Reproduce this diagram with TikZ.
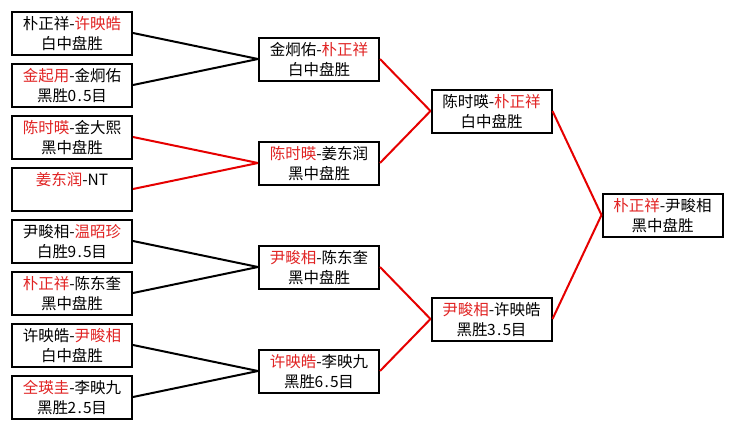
\documentclass[tikz,border=0pt]{standalone}
\usepackage{fontspec}
\setmainfont{Noto Sans CJK SC}
\definecolor{txtred}{RGB}{225,35,35}
\definecolor{linered}{RGB}{230,0,0}
\newcommand\R[1]{\textcolor{txtred}{#1}}
\newcommand\hw[1]{\makebox[7.8pt]{#1}}
\newcommand\game[5]{%
  \node[box] (#1) at (#2,#3) {};
  \node[txt] (#1a) at (#2,{#3-4}) {#4};
  \node[txt] (#1b) at (#2,{#3+16}) {#5};
}
\begin{document}
\begin{tikzpicture}[x=1pt,y=-1pt,
  box/.style={draw=black, line width=2pt, minimum width=120pt, minimum height=43pt, inner sep=0pt},
  txt/.style={anchor=base, inner sep=0pt, font=\fontsize{15.5pt}{20pt}\selectfont},
  blk/.style={line width=2pt, draw=black},
  rd/.style={line width=2pt, draw=linered}]
\useasboundingbox[fill=white] (0,0) rectangle (734,429);
% round 1
\game{a1}{72}{33}{朴正祥-\R{许映皓}}{白中盘胜}
\game{a2}{72}{85}{\R{金起用}-金炯佑}{黑胜\hw{0}\hw{.}\hw{5}目}
\game{a3}{72}{137}{\R{陈时暎}-金大熙}{黑中盘胜}
\node[box] (a4) at (72,189) {};
\node[txt] (a4a) at (72,185) {\R{姜东润}-NT};
\game{a5}{72}{241}{尹畯相-\R{温昭珍}}{白胜\hw{9}\hw{.}\hw{5}目}
\game{a6}{72}{293}{\R{朴正祥}-陈东奎}{黑中盘胜}
\game{a7}{72}{345}{许映皓-\R{尹畯相}}{白中盘胜}
\game{a8}{72}{397}{\R{全瑛圭}-李映九}{黑胜\hw{2}\hw{.}\hw{5}目}
% round 2
\game{b1}{319}{59}{金炯佑-\R{朴正祥}}{白中盘胜}
\game{b2}{319}{163}{\R{陈时暎}-姜东润}{黑中盘胜}
\game{b3}{319}{267}{\R{尹畯相}-陈东奎}{黑中盘胜}
\game{b4}{319}{371}{\R{许映皓}-李映九}{黑胜\hw{6}\hw{.}\hw{5}目}
% round 3
\game{c1}{491.5}{111}{陈时暎-\R{朴正祥}}{白中盘胜}
\game{c2}{491.5}{319}{\R{尹畯相}-许映皓}{黑胜\hw{3}\hw{.}\hw{5}目}
% final
\game{d1}{662.5}{215}{\R{朴正祥}-尹畯相}{黑中盘胜}
% connectors
\draw[blk] (a1.east) -- (b1.west);
\draw[blk] (a2.east) -- (b1.west);
\draw[rd] (a3.east) -- (b2.west);
\draw[rd] (a4.east) -- (b2.west);
\draw[blk] (a5.east) -- (b3.west);
\draw[blk] (a6.east) -- (b3.west);
\draw[blk] (a7.east) -- (b4.west);
\draw[blk] (a8.east) -- (b4.west);
\draw[rd] (b1.east) -- (c1.west);
\draw[rd] (b2.east) -- (c1.west);
\draw[rd] (b3.east) -- (c2.west);
\draw[rd] (b4.east) -- (c2.west);
\draw[rd] (c1.east) -- (d1.west);
\draw[rd] (c2.east) -- (d1.west);
\end{tikzpicture}
\end{document}
